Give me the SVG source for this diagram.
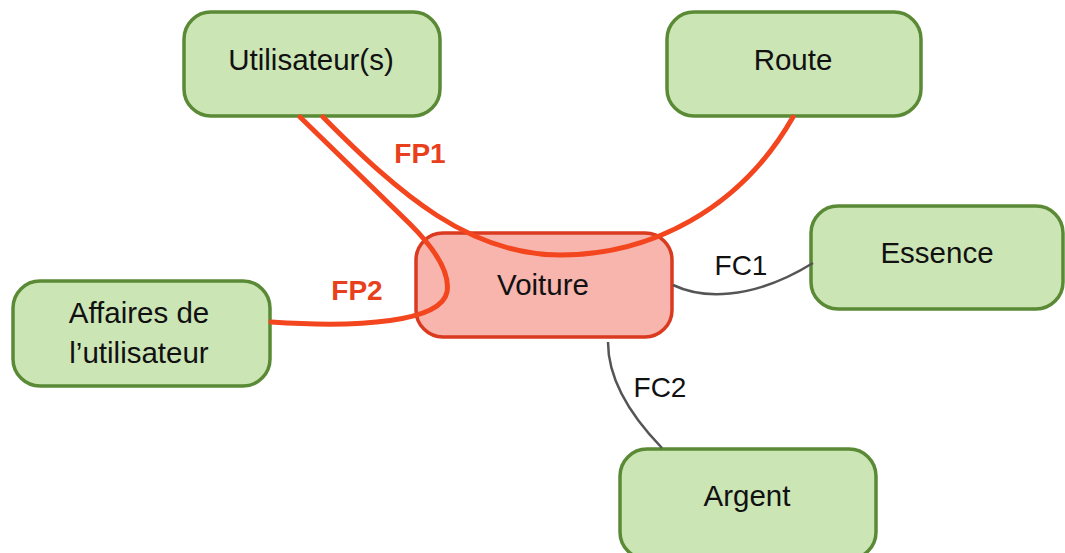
<svg xmlns="http://www.w3.org/2000/svg" width="1065" height="553" viewBox="0 0 1065 553">
<style>
.g{fill:#cbe5b5;stroke:#5a8a35;stroke-width:3.5}
.v{fill:#f7b5ae;stroke:#da3a1f;stroke-width:3.5}
.t{font-family:"Liberation Sans",Arial,sans-serif;font-size:29.5px;fill:#111;text-anchor:middle}
.fp{fill:none;stroke:#f3461f;stroke-width:5;stroke-linecap:round}
.fc{fill:none;stroke:#555;stroke-width:2.5}
.lfp{font-family:"Liberation Sans",Arial,sans-serif;font-size:28px;font-weight:bold;fill:#e8401c;text-anchor:middle}
.lfc{font-family:"Liberation Sans",Arial,sans-serif;font-size:28px;fill:#111;text-anchor:middle}
</style>
<rect width="1065" height="553" fill="#fff"/>
<g id="voiture"><rect class="v" x="416" y="233" width="256" height="104" rx="27"/><text class="t" x="543" y="295">Voiture</text></g>
<g id="utilisateurs"><rect class="g" x="184" y="12" width="256" height="104" rx="27"/><text class="t" x="311" y="70">Utilisateur(s)</text></g>
<g id="route"><rect class="g" x="667" y="12" width="254" height="104" rx="27"/><text class="t" x="793" y="70">Route</text></g>
<g id="essence"><rect class="g" x="811" y="206" width="252" height="103" rx="27"/><text class="t" x="937" y="263">Essence</text></g>
<g id="argent"><rect class="g" x="620" y="449" width="256" height="110" rx="27"/><text class="t" x="747" y="506">Argent</text></g>
<g id="affaires"><rect class="g" x="13" y="281" width="257" height="105" rx="27"/><text class="t" x="139" y="323">Affaires de</text><text class="t" x="139" y="363">l’utilisateur</text></g>
<g id="connectors">
<path class="fp" d="M323,117 C400,195 470,255 560,255 C650,255 740,210 793,117"/>
<path class="fp" d="M300,117 L410,224 C438,252 450,275 447,292 C441,322 360,328 271,322"/>
<path class="fc" d="M673,285 C700,298 750,302 813,263"/>
<path class="fc" d="M608,342 C608,380 630,415 662,448"/>
<text class="lfp" x="420" y="163">FP1</text>
<text class="lfp" x="357" y="300">FP2</text>
<text class="lfc" x="741" y="275">FC1</text>
<text class="lfc" x="660" y="397">FC2</text>
</g>
</svg>
